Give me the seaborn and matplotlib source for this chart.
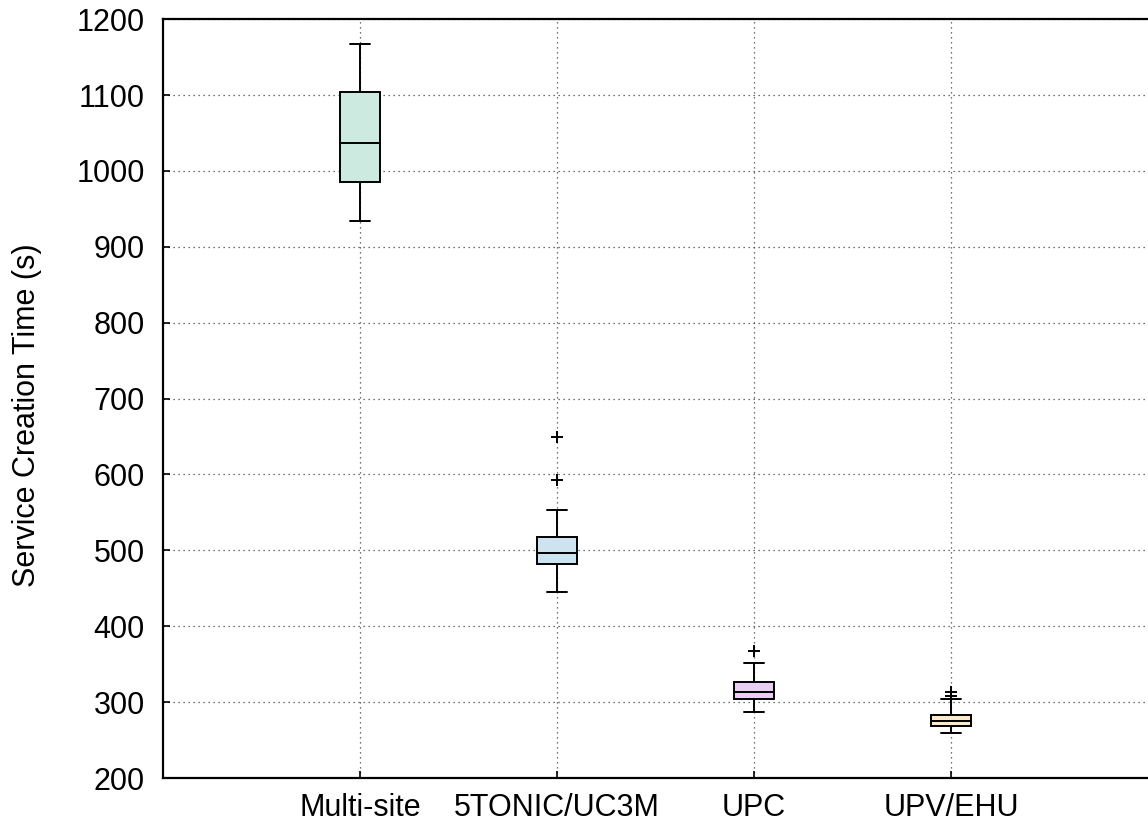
import numpy as np
import pandas as pd
import matplotlib
matplotlib.use("Agg")
import matplotlib.pyplot as plt
import seaborn as sns

# Service creation time observations (s) per deployment site
sites = ["Multi-site", "5TONIC/UC3M", "UPC", "UPV/EHU"]
multi_site = [934, 985, 1037, 1103.5, 1167]
tonic_uc3m = [445.5, 482, 482, 482, 497, 497, 497, 518, 518, 518, 553, 593, 650]
upc = [287, 304, 304, 313, 313, 326, 326, 351, 368]
upv_ehu = [259, 268, 268, 268, 275, 275, 275, 283, 283, 283, 304, 308, 313]
box_colors = ["#cdeae1", "#cde3ef", "#e9cdf2", "#fbe9cc"]
y_ticks = list(range(200, 1201, 100))

samples = [multi_site, tonic_uc3m, upc, upv_ehu]
df = pd.DataFrame({
    "site": [s for s, vals in zip(sites, samples) for _ in vals],
    "time": [v for vals in samples for v in vals],
})

sns.set_theme(style="white")
plt.rcParams["font.family"] = ["Liberation Sans", "DejaVu Sans"]

fig = plt.figure(figsize=(11.48, 8.24), dpi=100)
ax = fig.add_axes([0.142, 0.0558, 0.858, 0.921])

sns.boxplot(
    data=df, x="site", y="time", hue="site", order=sites, hue_order=sites,
    palette=box_colors, saturation=1, legend=False, width=0.2, whis=1.5, ax=ax,
    linecolor="black", linewidth=1.4,
    flierprops=dict(marker="+", markersize=9, markeredgewidth=1.4,
                    markeredgecolor="black"),
    capprops=dict(color="black"),
    zorder=3,
)

ax.set_xlim(-1, 4)
ax.set_ylim(200, 1200)
ax.set_yticks(y_ticks)
ax.set_xticks(range(len(sites)))
ax.set_xticklabels(sites)
ax.grid(True, linestyle=(0, (1, 3)), color="#444444", linewidth=0.9, zorder=0)
ax.set_axisbelow(True)

ax.tick_params(axis="both", direction="in", length=5, width=1.2,
               labelsize=22, colors="black", left=True, bottom=True)
ax.tick_params(axis="y", pad=13)
ax.tick_params(axis="x", pad=11)
ax.set_xlabel("")
ax.set_ylabel("Service Creation Time (s)", fontsize=22, color="black")
ax.yaxis.set_label_coords(-0.123, 0.478)

for side in ["left", "bottom", "top"]:
    ax.spines[side].set_visible(True)
    ax.spines[side].set_color("black")
    ax.spines[side].set_linewidth(1.6)
ax.spines["right"].set_visible(False)

fig.savefig("out.png", dpi=100)
